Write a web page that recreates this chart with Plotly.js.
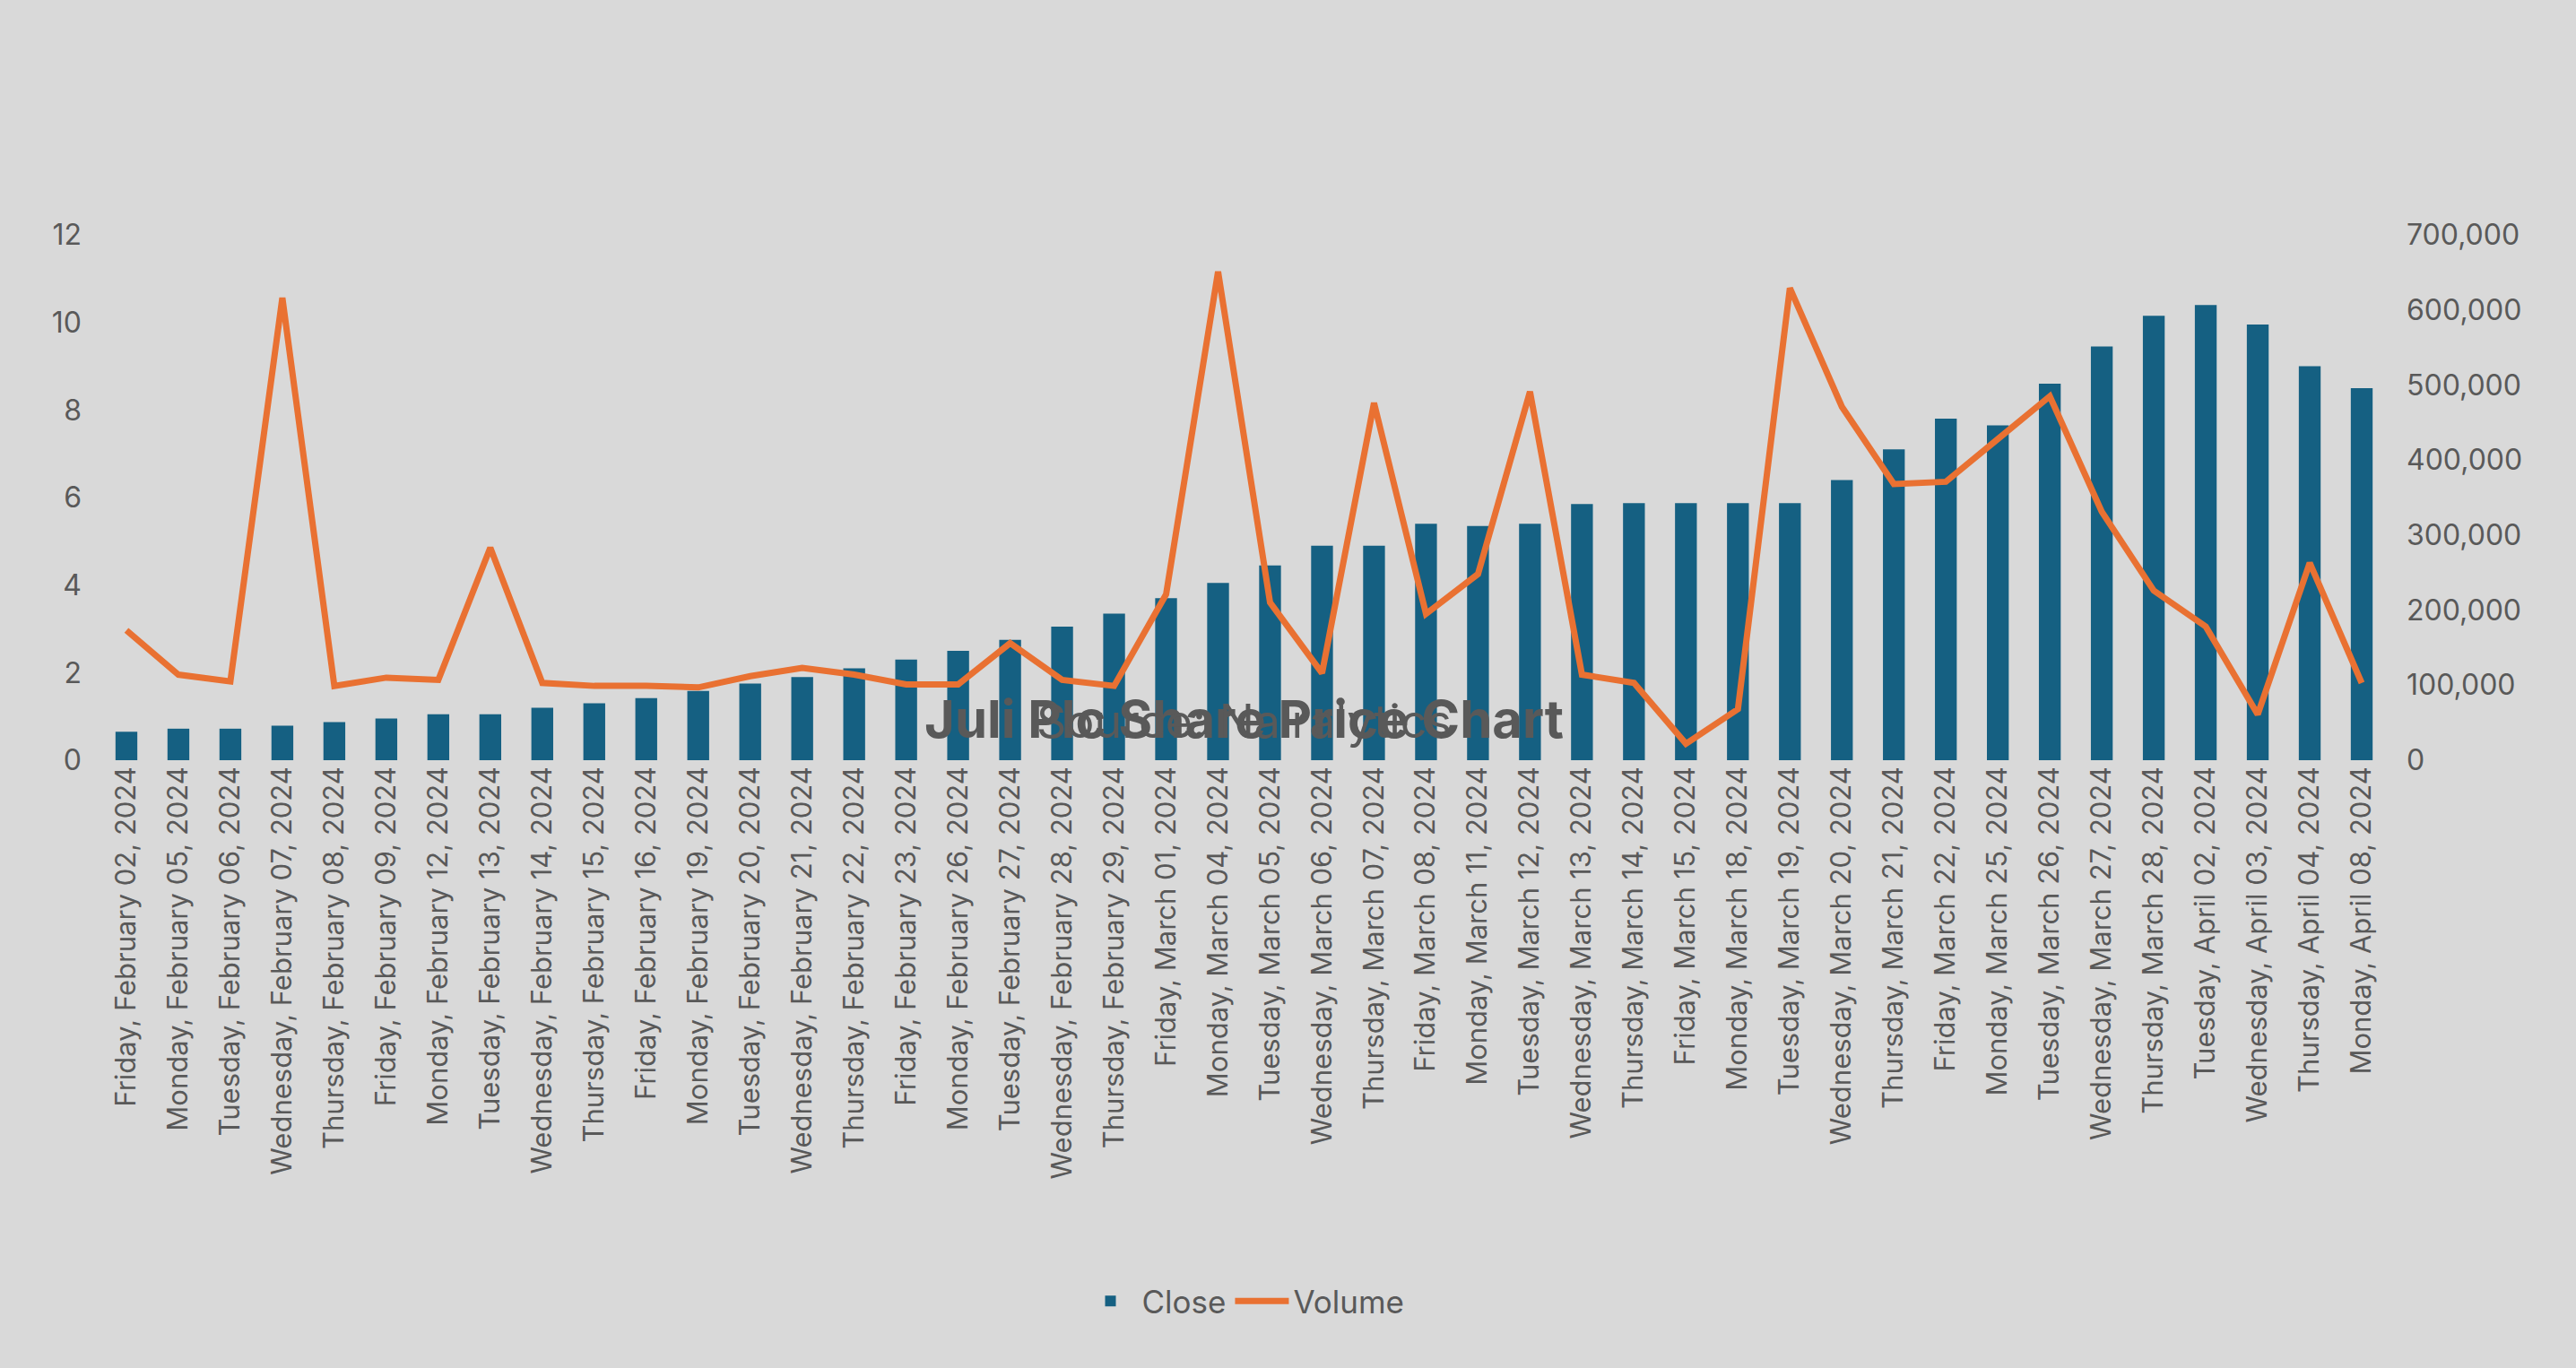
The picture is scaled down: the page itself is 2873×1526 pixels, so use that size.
<!DOCTYPE html>
<html>
<head>
<meta charset="utf-8">
<script src="https://cdn.plot.ly/plotly-3.0.1.min.js"></script>
<style>html,body{margin:0;padding:0;background:#d9d9d9;}</style>
</head>
<body>
<div id="chart" style="width:2873px;height:1526px;"></div>
<script>
// trading days
var dates = [
    "Friday, February 02, 2024", "Monday, February 05, 2024", "Tuesday, February 06, 2024",
    "Wednesday, February 07, 2024", "Thursday, February 08, 2024", "Friday, February 09, 2024",
    "Monday, February 12, 2024", "Tuesday, February 13, 2024", "Wednesday, February 14, 2024",
    "Thursday, February 15, 2024", "Friday, February 16, 2024", "Monday, February 19, 2024",
    "Tuesday, February 20, 2024", "Wednesday, February 21, 2024", "Thursday, February 22, 2024",
    "Friday, February 23, 2024", "Monday, February 26, 2024", "Tuesday, February 27, 2024",
    "Wednesday, February 28, 2024", "Thursday, February 29, 2024", "Friday, March 01, 2024",
    "Monday, March 04, 2024", "Tuesday, March 05, 2024", "Wednesday, March 06, 2024",
    "Thursday, March 07, 2024", "Friday, March 08, 2024", "Monday, March 11, 2024",
    "Tuesday, March 12, 2024", "Wednesday, March 13, 2024", "Thursday, March 14, 2024",
    "Friday, March 15, 2024", "Monday, March 18, 2024", "Tuesday, March 19, 2024",
    "Wednesday, March 20, 2024", "Thursday, March 21, 2024", "Friday, March 22, 2024",
    "Monday, March 25, 2024", "Tuesday, March 26, 2024", "Wednesday, March 27, 2024",
    "Thursday, March 28, 2024", "Tuesday, April 02, 2024", "Wednesday, April 03, 2024",
    "Thursday, April 04, 2024", "Monday, April 08, 2024"
];

var closePrice = [
    0.65, 0.72, 0.72, 0.79, 0.87, 0.95, 1.05, 1.05, 1.2, 1.3,
    1.42, 1.58, 1.75, 1.9, 2.1, 2.3, 2.5, 2.75, 3.05, 3.35,
    3.7, 4.05, 4.45, 4.9, 4.9, 5.4, 5.35, 5.4, 5.85, 5.87,
    5.87, 5.87, 5.87, 6.4, 7.1, 7.8, 7.65, 8.6, 9.45, 10.15,
    10.4, 9.95, 9.0, 8.5
];

var volume = [
    173000, 114000, 105000, 616000, 99000, 110000, 107000, 283000, 103000, 99000,
    99000, 97000, 112000, 123000, 114000, 101000, 101000, 156000, 107000, 99000,
    221000, 651000, 210000, 116000, 476000, 195000, 248000, 491000, 114000, 103000,
    22000, 68000, 629000, 471000, 368000, 371000, 428000, 485000, 331000, 226000,
    178000, 61000, 263000, 103000
];

var txt = "#595959";

var data = [{
    x: dates,
    y: closePrice,
    name: "Close",
    type: "bar",
    marker: {color: "#156082"}
}, {
    x: dates,
    y: volume,
    name: "Volume",
    type: "scatter",
    mode: "lines",
    yaxis: "y2",
    line: {color: "#e97132", width: 7}
}];

var layout = {
    width: 2873,
    height: 1526,
    paper_bgcolor: "#d9d9d9",
    plot_bgcolor: "#d9d9d9",
    font: {family: "Inter, 'Open Sans', sans-serif", color: txt, size: 32},
    annotations: [{
        text: "<b>Juli Plc Share Price Chart</b>",
        xref: "paper", yref: "container",
        x: 0.5, y: 1 - 84 / 1526, yanchor: "middle",
        showarrow: false,
        font: {size: 58, color: txt}
    }, {
        text: "Source: Nairalytics",
        xref: "paper", yref: "container",
        x: 0.5, y: 1 - 167 / 1526, yanchor: "middle",
        showarrow: false,
        font: {size: 52, color: txt}
    }],
    margin: {l: 112, r: 210, t: 262, b: 678},
    bargap: 0.58,
    showlegend: true,
    legend: {
        orientation: "h",
        x: 0.5, xanchor: "center",
        y: -1.03, yanchor: "middle",
        itemwidth: 60,
        font: {size: 35, color: txt}
    },
    xaxis: {
        type: "category",
        tickangle: -90,
        showgrid: false,
        showline: false,
        ticks: "",
        tickfont: {size: 31, color: txt}
    },
    yaxis: {
        range: [0, 12],
        dtick: 2,
        showgrid: false,
        zeroline: false,
        tickfont: {size: 32, color: txt},
        ticklabelstandoff: 20
    },
    yaxis2: {
        range: [0, 700000],
        dtick: 100000,
        overlaying: "y",
        side: "right",
        showgrid: false,
        zeroline: false,
        tickformat: ",d",
        tickfont: {size: 32, color: txt},
        ticklabelstandoff: 20
    }
};

Plotly.newPlot("chart", data, layout, {displayModeBar: false});
</script>
</body>
</html>
